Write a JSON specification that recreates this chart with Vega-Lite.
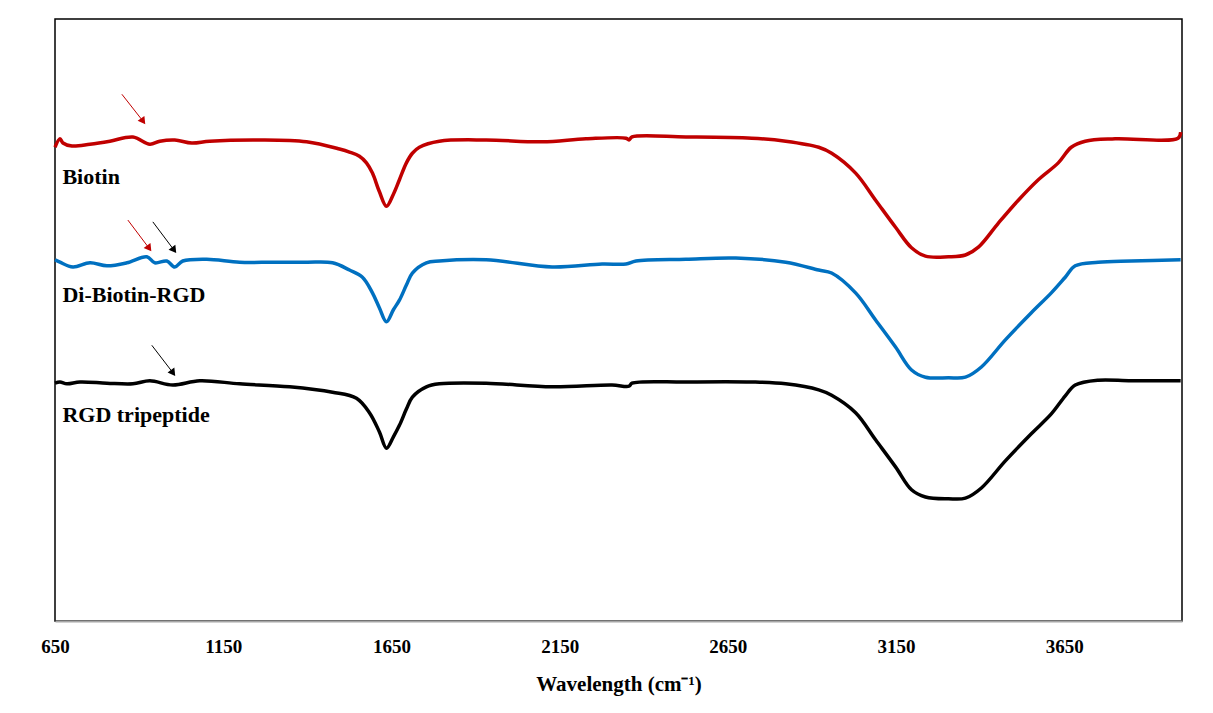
{
  "$schema": "https://vega.github.io/schema/vega-lite/v6.json",
  "autosize": "none",
  "width": 1127,
  "height": 602,
  "padding": {"left": 55, "top": 19, "right": 31, "bottom": 92},
  "background": "#ffffff",
  "config": {
    "view": {"stroke": "#000000", "strokeWidth": 1.5},
    "font": "Liberation Serif"
  },
  "datasets": {
    "spectra": [
      {"series": "Biotin", "w": 650, "v": 78.7},
      {"series": "Biotin", "w": 664.8, "v": 80.1},
      {"series": "Biotin", "w": 673.7, "v": 79.4},
      {"series": "Biotin", "w": 700.4, "v": 78.9},
      {"series": "Biotin", "w": 753.9, "v": 79.2},
      {"series": "Biotin", "w": 813.2, "v": 79.7},
      {"series": "Biotin", "w": 881.5, "v": 80.4},
      {"series": "Biotin", "w": 931.9, "v": 79.2},
      {"series": "Biotin", "w": 961.6, "v": 79.7},
      {"series": "Biotin", "w": 1006.1, "v": 79.9},
      {"series": "Biotin", "w": 1056.5, "v": 79.4},
      {"series": "Biotin", "w": 1109.9, "v": 79.7},
      {"series": "Biotin", "w": 1258.3, "v": 79.9},
      {"series": "Biotin", "w": 1397.8, "v": 79.6},
      {"series": "Biotin", "w": 1495.7, "v": 78.4},
      {"series": "Biotin", "w": 1525.4, "v": 77.9},
      {"series": "Biotin", "w": 1555.0, "v": 77.2},
      {"series": "Biotin", "w": 1575.8, "v": 76.1},
      {"series": "Biotin", "w": 1593.6, "v": 74.4},
      {"series": "Biotin", "w": 1614.4, "v": 71.3},
      {"series": "Biotin", "w": 1635.2, "v": 68.9},
      {"series": "Biotin", "w": 1655.9, "v": 70.9},
      {"series": "Biotin", "w": 1673.8, "v": 73.3},
      {"series": "Biotin", "w": 1694.5, "v": 76.1},
      {"series": "Biotin", "w": 1712.3, "v": 77.7},
      {"series": "Biotin", "w": 1733.1, "v": 78.7},
      {"series": "Biotin", "w": 1792.4, "v": 79.7},
      {"series": "Biotin", "w": 1931.9, "v": 79.9},
      {"series": "Biotin", "w": 2098.1, "v": 79.6},
      {"series": "Biotin", "w": 2228.6, "v": 80.1},
      {"series": "Biotin", "w": 2347.3, "v": 80.2},
      {"series": "Biotin", "w": 2356.2, "v": 79.9},
      {"series": "Biotin", "w": 2365.2, "v": 80.4},
      {"series": "Biotin", "w": 2525.4, "v": 80.4},
      {"series": "Biotin", "w": 2721.2, "v": 80.2},
      {"series": "Biotin", "w": 2822.1, "v": 79.7},
      {"series": "Biotin", "w": 2920.1, "v": 78.7},
      {"series": "Biotin", "w": 2958.6, "v": 77.7},
      {"series": "Biotin", "w": 3029.8, "v": 74.4},
      {"series": "Biotin", "w": 3089.2, "v": 69.9},
      {"series": "Biotin", "w": 3148.5, "v": 65.4},
      {"series": "Biotin", "w": 3196.0, "v": 62.0},
      {"series": "Biotin", "w": 3237.5, "v": 60.6},
      {"series": "Biotin", "w": 3305.8, "v": 60.5},
      {"series": "Biotin", "w": 3356.2, "v": 60.8},
      {"series": "Biotin", "w": 3394.8, "v": 62.1},
      {"series": "Biotin", "w": 3454.2, "v": 66.1},
      {"series": "Biotin", "w": 3513.5, "v": 69.9},
      {"series": "Biotin", "w": 3572.9, "v": 73.3},
      {"series": "Biotin", "w": 3632.2, "v": 76.1},
      {"series": "Biotin", "w": 3670.8, "v": 78.7},
      {"series": "Biotin", "w": 3712.3, "v": 79.7},
      {"series": "Biotin", "w": 3801.3, "v": 80.1},
      {"series": "Biotin", "w": 3988.3, "v": 80.2},
      {"series": "Biotin", "w": 3996, "v": 81.2},

      {"series": "Di-Biotin-RGD", "w": 650, "v": 60.0},
      {"series": "Di-Biotin-RGD", "w": 664.8, "v": 59.6},
      {"series": "Di-Biotin-RGD", "w": 703.4, "v": 58.8},
      {"series": "Di-Biotin-RGD", "w": 753.9, "v": 59.5},
      {"series": "Di-Biotin-RGD", "w": 804.3, "v": 59.0},
      {"series": "Di-Biotin-RGD", "w": 863.6, "v": 59.5},
      {"series": "Di-Biotin-RGD", "w": 923.0, "v": 60.5},
      {"series": "Di-Biotin-RGD", "w": 946.7, "v": 59.5},
      {"series": "Di-Biotin-RGD", "w": 982.3, "v": 59.8},
      {"series": "Di-Biotin-RGD", "w": 1006.1, "v": 58.8},
      {"series": "Di-Biotin-RGD", "w": 1029.8, "v": 59.8},
      {"series": "Di-Biotin-RGD", "w": 1101.0, "v": 60.1},
      {"series": "Di-Biotin-RGD", "w": 1198.9, "v": 59.6},
      {"series": "Di-Biotin-RGD", "w": 1296.9, "v": 59.6},
      {"series": "Di-Biotin-RGD", "w": 1397.8, "v": 59.6},
      {"series": "Di-Biotin-RGD", "w": 1474.9, "v": 59.5},
      {"series": "Di-Biotin-RGD", "w": 1525.4, "v": 58.3},
      {"series": "Di-Biotin-RGD", "w": 1563.9, "v": 57.1},
      {"series": "Di-Biotin-RGD", "w": 1593.6, "v": 54.5},
      {"series": "Di-Biotin-RGD", "w": 1614.4, "v": 52.0},
      {"series": "Di-Biotin-RGD", "w": 1635.2, "v": 49.7},
      {"series": "Di-Biotin-RGD", "w": 1655.9, "v": 51.7},
      {"series": "Di-Biotin-RGD", "w": 1673.8, "v": 53.3},
      {"series": "Di-Biotin-RGD", "w": 1694.5, "v": 55.8},
      {"series": "Di-Biotin-RGD", "w": 1712.3, "v": 57.8},
      {"series": "Di-Biotin-RGD", "w": 1753.9, "v": 59.5},
      {"series": "Di-Biotin-RGD", "w": 1792.4, "v": 59.8},
      {"series": "Di-Biotin-RGD", "w": 1931.9, "v": 60.0},
      {"series": "Di-Biotin-RGD", "w": 2127.7, "v": 58.8},
      {"series": "Di-Biotin-RGD", "w": 2276.1, "v": 59.3},
      {"series": "Di-Biotin-RGD", "w": 2347.3, "v": 59.3},
      {"series": "Di-Biotin-RGD", "w": 2377.0, "v": 59.8},
      {"series": "Di-Biotin-RGD", "w": 2525.4, "v": 60.1},
      {"series": "Di-Biotin-RGD", "w": 2673.8, "v": 60.3},
      {"series": "Di-Biotin-RGD", "w": 2822.1, "v": 59.6},
      {"series": "Di-Biotin-RGD", "w": 2920.1, "v": 58.3},
      {"series": "Di-Biotin-RGD", "w": 2958.6, "v": 57.8},
      {"series": "Di-Biotin-RGD", "w": 3029.8, "v": 54.5},
      {"series": "Di-Biotin-RGD", "w": 3089.2, "v": 50.0},
      {"series": "Di-Biotin-RGD", "w": 3148.5, "v": 45.5},
      {"series": "Di-Biotin-RGD", "w": 3196.0, "v": 41.7},
      {"series": "Di-Biotin-RGD", "w": 3237.5, "v": 40.5},
      {"series": "Di-Biotin-RGD", "w": 3305.8, "v": 40.4},
      {"series": "Di-Biotin-RGD", "w": 3356.2, "v": 40.5},
      {"series": "Di-Biotin-RGD", "w": 3403.7, "v": 42.2},
      {"series": "Di-Biotin-RGD", "w": 3474.9, "v": 46.7},
      {"series": "Di-Biotin-RGD", "w": 3552.1, "v": 51.2},
      {"series": "Di-Biotin-RGD", "w": 3611.5, "v": 54.5},
      {"series": "Di-Biotin-RGD", "w": 3653.0, "v": 57.1},
      {"series": "Di-Biotin-RGD", "w": 3682.7, "v": 59.0},
      {"series": "Di-Biotin-RGD", "w": 3750.9, "v": 59.6},
      {"series": "Di-Biotin-RGD", "w": 3848.8, "v": 59.8},
      {"series": "Di-Biotin-RGD", "w": 3996, "v": 60.0},

      {"series": "RGD tripeptide", "w": 650, "v": 39.5},
      {"series": "RGD tripeptide", "w": 664.8, "v": 39.7},
      {"series": "RGD tripeptide", "w": 685.6, "v": 39.4},
      {"series": "RGD tripeptide", "w": 724.2, "v": 39.7},
      {"series": "RGD tripeptide", "w": 804.3, "v": 39.5},
      {"series": "RGD tripeptide", "w": 881.5, "v": 39.4},
      {"series": "RGD tripeptide", "w": 931.9, "v": 39.9},
      {"series": "RGD tripeptide", "w": 1000.1, "v": 39.2},
      {"series": "RGD tripeptide", "w": 1080.3, "v": 39.9},
      {"series": "RGD tripeptide", "w": 1198.9, "v": 39.4},
      {"series": "RGD tripeptide", "w": 1347.3, "v": 38.9},
      {"series": "RGD tripeptide", "w": 1474.9, "v": 38.0},
      {"series": "RGD tripeptide", "w": 1546.1, "v": 37.0},
      {"series": "RGD tripeptide", "w": 1584.7, "v": 34.6},
      {"series": "RGD tripeptide", "w": 1614.4, "v": 31.4},
      {"series": "RGD tripeptide", "w": 1635.2, "v": 28.7},
      {"series": "RGD tripeptide", "w": 1655.9, "v": 30.6},
      {"series": "RGD tripeptide", "w": 1673.8, "v": 32.5},
      {"series": "RGD tripeptide", "w": 1694.5, "v": 35.2},
      {"series": "RGD tripeptide", "w": 1712.3, "v": 37.2},
      {"series": "RGD tripeptide", "w": 1753.9, "v": 38.9},
      {"series": "RGD tripeptide", "w": 1792.4, "v": 39.4},
      {"series": "RGD tripeptide", "w": 1931.9, "v": 39.5},
      {"series": "RGD tripeptide", "w": 2127.7, "v": 38.9},
      {"series": "RGD tripeptide", "w": 2305.8, "v": 39.2},
      {"series": "RGD tripeptide", "w": 2356.2, "v": 39.0},
      {"series": "RGD tripeptide", "w": 2365.2, "v": 39.5},
      {"series": "RGD tripeptide", "w": 2525.4, "v": 39.7},
      {"series": "RGD tripeptide", "w": 2721.2, "v": 39.7},
      {"series": "RGD tripeptide", "w": 2822.1, "v": 39.4},
      {"series": "RGD tripeptide", "w": 2920.1, "v": 38.4},
      {"series": "RGD tripeptide", "w": 2958.6, "v": 37.5},
      {"series": "RGD tripeptide", "w": 3029.8, "v": 34.6},
      {"series": "RGD tripeptide", "w": 3089.2, "v": 30.1},
      {"series": "RGD tripeptide", "w": 3148.5, "v": 25.6},
      {"series": "RGD tripeptide", "w": 3196.0, "v": 21.8},
      {"series": "RGD tripeptide", "w": 3237.5, "v": 20.6},
      {"series": "RGD tripeptide", "w": 3305.8, "v": 20.3},
      {"series": "RGD tripeptide", "w": 3356.2, "v": 20.4},
      {"series": "RGD tripeptide", "w": 3403.7, "v": 22.1},
      {"series": "RGD tripeptide", "w": 3474.9, "v": 26.6},
      {"series": "RGD tripeptide", "w": 3552.1, "v": 31.1},
      {"series": "RGD tripeptide", "w": 3611.5, "v": 34.4},
      {"series": "RGD tripeptide", "w": 3653.0, "v": 37.4},
      {"series": "RGD tripeptide", "w": 3682.7, "v": 39.2},
      {"series": "RGD tripeptide", "w": 3750.9, "v": 40.0},
      {"series": "RGD tripeptide", "w": 3848.8, "v": 39.9},
      {"series": "RGD tripeptide", "w": 3996, "v": 39.9}
    ],
    "labels": [
      {"label": "Biotin", "w": 672, "v": 73.8},
      {"label": "Di-Biotin-RGD", "w": 672, "v": 54.2},
      {"label": "RGD tripeptide", "w": 672, "v": 34.2}
    ],
    "arrows": [
      {"c": "red", "w1": 848.8, "v1": 87.5, "w2": 912, "v2": 83.0},
      {"c": "red", "w1": 866.6, "v1": 66.6, "w2": 930, "v2": 61.9},
      {"c": "black", "w1": 940.8, "v1": 66.3, "w2": 1004, "v2": 61.6},
      {"c": "black", "w1": 937.8, "v1": 45.8, "w2": 1001, "v2": 41.2}
    ]
  },
  "layer": [
    {
      "data": {"name": "spectra"},
      "mark": {"type": "line", "strokeWidth": 3.5, "interpolate": "catmull-rom"},
      "encoding": {
        "x": {
          "field": "w", "type": "quantitative",
          "scale": {"domain": [650, 4000], "nice": false, "zero": false},
          "axis": {
            "values": [650, 1150, 1650, 2150, 2650, 3150, 3650],
            "format": "d",
            "title": "Wavelength (cm⁻¹)",
            "grid": false, "ticks": false,
            "domainColor": "#A6A6A6", "domainWidth": 2, "zindex": 1,
            "labelFont": "Liberation Serif", "labelFontSize": 19, "labelFontWeight": "bold",
            "labelColor": "#000000", "labelPadding": 16, "labelFlush": false,
            "titleFont": "Liberation Serif", "titleFontSize": 21, "titleFontWeight": "bold",
            "titleColor": "#000000", "titlePadding": 17
          }
        },
        "y": {
          "field": "v", "type": "quantitative",
          "scale": {"domain": [0, 100], "nice": false},
          "axis": null
        },
        "color": {
          "field": "series", "type": "nominal",
          "scale": {"domain": ["Biotin", "Di-Biotin-RGD", "RGD tripeptide"], "range": ["#C00000", "#0070C0", "#000000"]},
          "legend": null
        }
      }
    },
    {
      "data": {"name": "labels"},
      "mark": {"type": "text", "align": "left", "baseline": "middle", "font": "Liberation Serif", "fontSize": 22, "fontWeight": "bold", "color": "#000000"},
      "encoding": {
        "x": {"field": "w", "type": "quantitative"},
        "y": {"field": "v", "type": "quantitative"},
        "text": {"field": "label"}
      }
    },
    {
      "data": {"name": "arrows"},
      "mark": {"type": "rule", "strokeWidth": 1},
      "encoding": {
        "x": {"field": "w1", "type": "quantitative"},
        "y": {"field": "v1", "type": "quantitative"},
        "x2": {"field": "w2"},
        "y2": {"field": "v2"},
        "stroke": {
          "field": "c", "type": "nominal",
          "scale": {"domain": ["red", "black"], "range": ["#C00000", "#000000"]},
          "legend": null
        }
      }
    },
    {
      "data": {"name": "arrows"},
      "mark": {"type": "point", "shape": "triangle-down", "filled": true, "size": 70, "angle": -36, "opacity": 1},
      "encoding": {
        "x": {"field": "w2", "type": "quantitative"},
        "y": {"field": "v2", "type": "quantitative"},
        "fill": {
          "field": "c", "type": "nominal",
          "scale": {"domain": ["red", "black"], "range": ["#C00000", "#000000"]},
          "legend": null
        }
      }
    }
  ]
}
